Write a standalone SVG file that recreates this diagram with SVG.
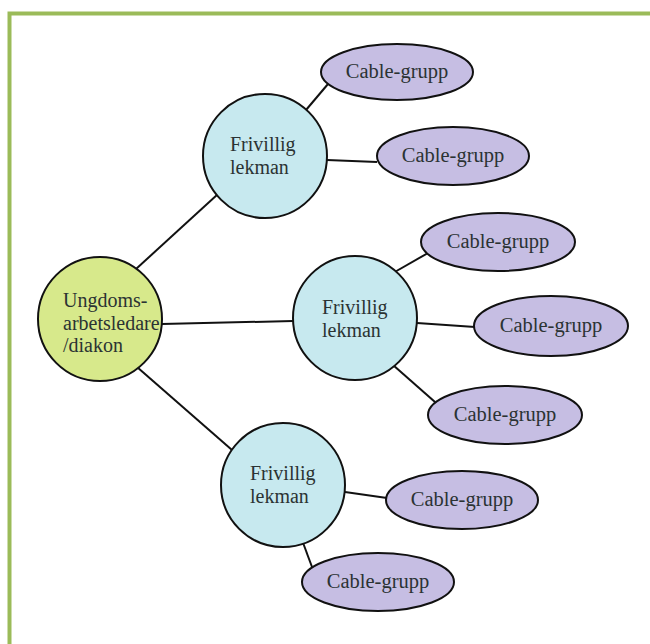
<svg xmlns="http://www.w3.org/2000/svg" width="650" height="644" viewBox="0 0 650 644">
<style>
  .frame { fill: none; stroke: #9BBB59; stroke-width: 4; }
  .conn line { stroke: #111; stroke-width: 2; }
  .root { fill: #D7E98B; stroke: #111; stroke-width: 2; }
  .vol { fill: #C7E9EF; stroke: #111; stroke-width: 2; }
  .grp { fill: #C6BEE3; stroke: #111; stroke-width: 2; }
  text { font-family: "Liberation Serif", "Times New Roman", serif; fill: #2b3333; }
  .t20 { font-size: 20px; }
  .tg { font-size: 20.5px; text-anchor: middle; }
</style>
<rect x="0" y="0" width="650" height="644" fill="#fff"/>
<path class="frame" d="M9.5,644 V13.5 H650"/>
<g id="connectors" class="conn">
  <line x1="136" y1="269" x2="218" y2="194"/>
  <line x1="162" y1="324" x2="293" y2="321"/>
  <line x1="137" y1="367" x2="232" y2="450"/>
  <line x1="306" y1="110" x2="328" y2="84"/>
  <line x1="327" y1="160" x2="377" y2="162"/>
  <line x1="393" y1="273" x2="428" y2="253"/>
  <line x1="417" y1="323" x2="475" y2="327"/>
  <line x1="393" y1="365" x2="435" y2="402"/>
  <line x1="345" y1="492" x2="387" y2="498"/>
  <line x1="302" y1="540" x2="312" y2="567"/>
</g>
<g id="root">
  <circle class="root" cx="100" cy="319" r="62"/>
  <text class="t20" x="63" y="307">Ungdoms-</text>
  <text class="t20" x="63" y="329.5">arbetsledare</text>
  <text class="t20" x="63" y="352">/diakon</text>
</g>
<g id="vol1">
  <circle class="vol" cx="265" cy="156" r="62"/>
  <text class="t20" x="230" y="151">Frivillig</text>
  <text class="t20" x="230" y="174">lekman</text>
</g>
<g id="vol2">
  <circle class="vol" cx="355" cy="318" r="62"/>
  <text class="t20" x="322" y="314">Frivillig</text>
  <text class="t20" x="322" y="337">lekman</text>
</g>
<g id="vol3">
  <circle class="vol" cx="283" cy="485" r="62"/>
  <text class="t20" x="250" y="480">Frivillig</text>
  <text class="t20" x="250" y="503">lekman</text>
</g>
<g id="grp1">
  <ellipse class="grp" cx="397" cy="72" rx="76" ry="28"/>
  <text class="tg" x="397" y="78">Cable-grupp</text>
</g>
<g id="grp2">
  <ellipse class="grp" cx="453" cy="156" rx="76" ry="29"/>
  <text class="tg" x="453" y="162">Cable-grupp</text>
</g>
<g id="grp3">
  <ellipse class="grp" cx="498" cy="242" rx="77" ry="29"/>
  <text class="tg" x="498" y="248">Cable-grupp</text>
</g>
<g id="grp4">
  <ellipse class="grp" cx="551" cy="326" rx="77" ry="30"/>
  <text class="tg" x="551" y="332">Cable-grupp</text>
</g>
<g id="grp5">
  <ellipse class="grp" cx="505" cy="415" rx="77" ry="29"/>
  <text class="tg" x="505" y="421">Cable-grupp</text>
</g>
<g id="grp6">
  <ellipse class="grp" cx="462" cy="500" rx="76" ry="29"/>
  <text class="tg" x="462" y="506">Cable-grupp</text>
</g>
<g id="grp7">
  <ellipse class="grp" cx="378" cy="582" rx="76" ry="29"/>
  <text class="tg" x="378" y="588">Cable-grupp</text>
</g>
</svg>
